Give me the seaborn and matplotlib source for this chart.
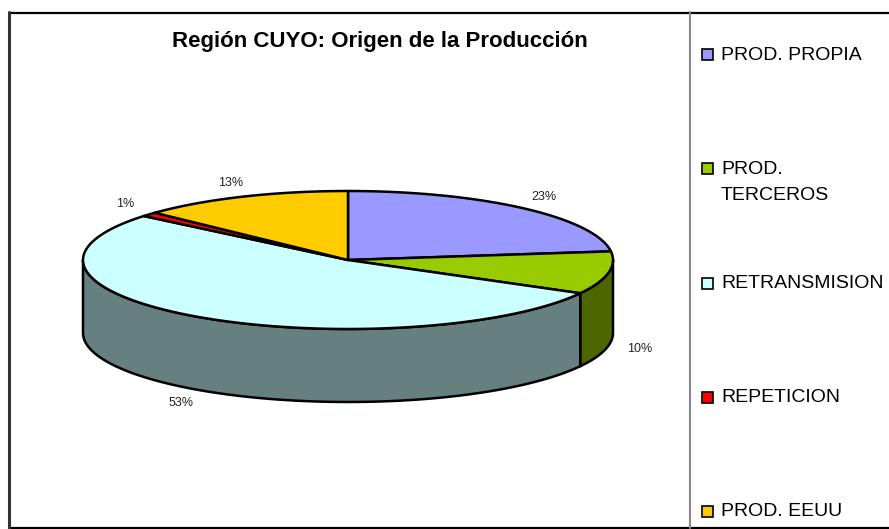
import numpy as np
import matplotlib
matplotlib.use("Agg")
import matplotlib.pyplot as plt
from matplotlib.patches import Rectangle
import seaborn as sns

sns.set_style("white")
plt.rcParams['font.family'] = ['Liberation Sans', 'DejaVu Sans']
plt.rcParams['text.color'] = 'black'

# data
labels = ["PROD. PROPIA", "PROD.\nTERCEROS", "RETRANSMISION", "REPETICION", "PROD. EEUU"]
values = [23, 10, 53, 1, 13]
top_colors = ["#9999FF", "#99CC00", "#CCFFFF", "#FF0000", "#FFCC00"]
side_colors = ["#4D4D80", "#4D6600", "#668080", "#800000", "#806600"]
title = "Región CUYO: Origen de la Producción"

# geometry of the 3d pie (pixel coords, y down)
cx, cy, rx, ry, depth = 348, 260, 265, 69, 73

fig = plt.figure(figsize=(8.89, 5.29), dpi=100)
ax = fig.add_axes([0, 0, 1, 1])
ax.set_xlim(0, 889)
ax.set_ylim(529, 0)
ax.axis("off")

def pt(theta, dy=0):
    t = np.radians(theta)
    return cx + rx * np.cos(t), cy - ry * np.sin(t) + dy

total = sum(values)
fracs = np.array(values) / total
ends = 90 - 360 * np.cumsum(fracs)
starts = np.concatenate([[90], ends[:-1]])

# side walls (front half only: angles -180..0)
for s, e, c in zip(starts, ends, side_colors):
    lo, hi = max(e, -180), min(s, 0)
    if hi <= lo:
        continue
    th = np.linspace(hi, lo, 80)
    xs_t, ys_t = pt(th)
    xs_b, ys_b = pt(th[::-1], depth)
    ax.fill(np.concatenate([xs_t, xs_b]), np.concatenate([ys_t, ys_b]),
            facecolor=c, edgecolor="black", lw=1.8, joinstyle="round")

# top wedges
for s, e, c in zip(starts, ends, top_colors):
    th = np.linspace(s, e, 120)
    xs, ys = pt(th)
    ax.fill(np.concatenate([[cx], xs]), np.concatenate([[cy], ys]),
            facecolor=c, edgecolor="black", lw=1.8, joinstyle="round")

# percentage labels
for s, e, v in zip(starts, ends, values):
    mid = np.radians((s + e) / 2)
    x = cx + rx * np.cos(mid) * 1.12
    y = cy - ry * np.sin(mid) * 1.22
    if np.sin(mid) < 0:
        y += depth
    ax.text(x, y, f"{v}%", ha="center", va="center", fontsize=9, color="#222222")

ax.text(380, 42, title, ha="center", va="center", fontsize=16, fontweight="bold")

# legend
leg_y = np.linspace(55, 512, len(labels))
for lab, c, y in zip(labels, top_colors, leg_y):
    ax.add_patch(Rectangle((702, y - 6), 11, 11, facecolor=c, edgecolor="black", lw=1.2))
    for i, line in enumerate(lab.split("\n")):
        ax.text(721, y + i * 26, line, ha="left", va="center", fontsize=14)

# frame
ax.plot([9, 889], [12.5, 12.5], color="black", lw=1.6)
ax.plot([9, 889], [527.5, 527.5], color="black", lw=1.6)
ax.plot([8.5, 8.5], [12, 528], color="#333333", lw=2.2)
ax.plot([690, 690], [12, 528], color="#888888", lw=1.5)

fig.savefig("out.png", dpi=100)
